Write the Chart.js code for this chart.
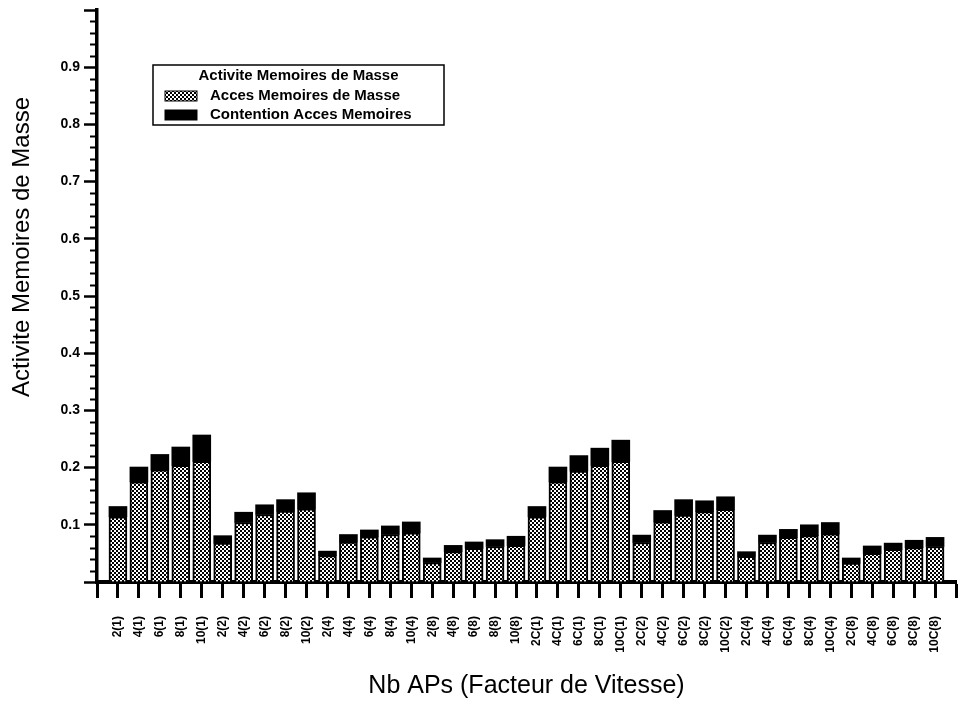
<!DOCTYPE html>
<html>
<head>
<meta charset="utf-8">
<title>Activite Memoires de Masse</title>
<script src="https://cdn.jsdelivr.net/npm/chart.js@4.4.0/dist/chart.umd.min.js"></script>
<style>
  html, body { margin: 0; padding: 0; background: #fff; }
  #wrap { position: relative; width: 958px; height: 703px; }
</style>
</head>
<body>
<div id="wrap"><canvas id="chart"></canvas></div>
<script>
  // Nb APs (facteur de vitesse).
  var categories = [
    '2(1)', '4(1)', '6(1)', '8(1)', '10(1)',
    '2(2)', '4(2)', '6(2)', '8(2)', '10(2)',
    '2(4)', '4(4)', '6(4)', '8(4)', '10(4)',
    '2(8)', '4(8)', '6(8)', '8(8)', '10(8)',
    '2C(1)', '4C(1)', '6C(1)', '8C(1)', '10C(1)',
    '2C(2)', '4C(2)', '6C(2)', '8C(2)', '10C(2)',
    '2C(4)', '4C(4)', '6C(4)', '8C(4)', '10C(4)',
    '2C(8)', '4C(8)', '6C(8)', '8C(8)', '10C(8)'
  ];

  // Acces Memoires de Masse (hatched part).
  var accesMasse = [
    0.114, 0.175, 0.196, 0.204, 0.211,
    0.068, 0.104, 0.118, 0.124, 0.128,
    0.046, 0.070, 0.079, 0.083, 0.086,
    0.034, 0.053, 0.059, 0.062, 0.064,
    0.114, 0.175, 0.194, 0.204, 0.211,
    0.069, 0.105, 0.117, 0.123, 0.127,
    0.045, 0.069, 0.078, 0.081, 0.084,
    0.033, 0.050, 0.057, 0.060, 0.062
  ];

  // Contention Acces Memoires (black part on top).
  var contention = [
    0.018, 0.026, 0.027, 0.032, 0.046,
    0.013, 0.018, 0.017, 0.020, 0.028,
    0.008, 0.013, 0.012, 0.015, 0.019,
    0.008, 0.011, 0.011, 0.012, 0.016,
    0.018, 0.026, 0.027, 0.030, 0.037,
    0.013, 0.020, 0.027, 0.019, 0.022,
    0.008, 0.013, 0.014, 0.019, 0.020,
    0.009, 0.013, 0.011, 0.013, 0.016
  ];

  // Labelled y ticks.
  var yTickLabels = [0.1, 0.2, 0.3, 0.4, 0.5, 0.6, 0.7, 0.8, 0.9];

  var FONT = '"Liberation Sans", Arial, Helvetica, sans-serif';

  // Hatch pattern for the "acces" bars.
  function makeHatch() {
    var c = document.createElement('canvas');
    c.width = 4;
    c.height = 4;
    var g = c.getContext('2d');
    g.fillStyle = '#000';
    g.fillRect(0, 0, 4, 4);
    g.fillStyle = '#fff';
    g.fillRect(0, 0, 2, 2);
    g.fillRect(2, 2, 2, 2);
    return g.createPattern(c, 'repeat');
  }
  var hatch = makeHatch();

  // Empty slot at each end of the axis, like the original plot.
  var labels = [''].concat(categories, ['']);
  var accesData = [null].concat(accesMasse, [null]);
  var contentionData = [null].concat(contention, [null]);

  var decorPlugin = {
    id: 'decor',
    afterDraw: function (chart) {
      var ctx = chart.ctx;
      var yScale = chart.scales.y;
      var area = chart.chartArea;
      ctx.save();

      // Minor ticks on the y axis.
      ctx.strokeStyle = '#000';
      ctx.lineWidth = 2;
      for (var i = 1; i < 50; i++) {
        if (i % 5 === 0) continue;
        var py = Math.round(yScale.getPixelForValue(i * 0.02)) + 0.5;
        ctx.beginPath();
        ctx.moveTo(area.left - 7, py);
        ctx.lineTo(area.left, py);
        ctx.stroke();
      }

      // Y axis title.
      ctx.fillStyle = '#000';
      ctx.font = '24px ' + FONT;
      ctx.textAlign = 'center';
      ctx.textBaseline = 'middle';
      ctx.translate(22, 247);
      ctx.rotate(-Math.PI / 2);
      ctx.fillText('Activite Memoires de Masse', 0, 0);
      ctx.restore();

      // Legend box.
      ctx.save();
      var lx = 153, ly = 65, lw = 291, lh = 60;
      ctx.fillStyle = '#fff';
      ctx.fillRect(lx, ly, lw, lh);
      ctx.strokeStyle = '#000';
      ctx.lineWidth = 1.5;
      ctx.strokeRect(lx, ly, lw, lh);

      ctx.fillStyle = '#000';
      ctx.font = 'bold 15px ' + FONT;
      ctx.textBaseline = 'middle';
      ctx.textAlign = 'center';
      ctx.fillText('Activite Memoires de Masse', lx + lw / 2, ly + 11);

      ctx.textAlign = 'left';
      var items = [
        { text: 'Acces Memoires de Masse', fill: hatch, y: ly + 31 },
        { text: 'Contention Acces Memoires', fill: '#000', y: ly + 50 }
      ];
      items.forEach(function (item) {
        ctx.fillStyle = item.fill;
        ctx.fillRect(lx + 12, item.y - 5, 32, 10);
        ctx.strokeStyle = '#000';
        ctx.lineWidth = 1;
        ctx.strokeRect(lx + 12, item.y - 5, 32, 10);
        ctx.fillStyle = '#000';
        ctx.fillText(item.text, lx + 57, item.y);
      });
      ctx.restore();
    }
  };

  var ctx = document.getElementById('chart');

  new Chart(ctx, {
    type: 'bar',
    data: {
      labels: labels,
      datasets: [
        {
          label: 'Acces Memoires de Masse',
          data: accesData,
          backgroundColor: hatch,
          borderColor: '#000',
          borderWidth: 2,
          barThickness: 18
        },
        {
          label: 'Contention Acces Memoires',
          data: contentionData,
          backgroundColor: '#000',
          borderColor: '#000',
          borderWidth: 0,
          barThickness: 18
        }
      ]
    },
    options: {
      responsive: true,
      maintainAspectRatio: false,
      animation: false,
      layout: { padding: { top: 10, right: 2, left: 0, bottom: 0 } },
      plugins: {
        legend: { display: false },
        tooltip: { enabled: false }
      },
      scales: {
        x: {
          stacked: true,
          offset: false,
          grid: {
            offset: false,
            drawOnChartArea: false,
            tickLength: 16,
            tickWidth: 3,
            tickColor: '#000'
          },
          border: { display: true, color: '#000', width: 4 },
          ticks: {
            autoSkip: false,
            minRotation: 90,
            maxRotation: 90,
            padding: 18,
            color: '#000',
            font: { family: FONT, size: 12, weight: 'bold' }
          },
          title: {
            display: true,
            text: 'Nb APs (Facteur de Vitesse)',
            color: '#000',
            font: { family: FONT, size: 25 },
            padding: { top: 0, bottom: 2 }
          },
          afterFit: function (scale) {
            scale.height = 121;
            scale.paddingLeft = 0;
            scale.paddingRight = 0;
          }
        },
        y: {
          stacked: true,
          min: 0,
          max: 1,
          ticks: {
            stepSize: 0.1,
            padding: 4,
            color: '#000',
            font: { family: FONT, size: 14, weight: 'bold' },
            callback: function (value) {
              for (var i = 0; i < yTickLabels.length; i++) {
                if (Math.abs(yTickLabels[i] - value) < 1e-6) return yTickLabels[i].toFixed(1);
              }
              return '';
            }
          },
          grid: {
            drawOnChartArea: false,
            tickLength: 13,
            tickWidth: 2.5,
            tickColor: '#000'
          },
          border: { display: true, color: '#000', width: 3.5 },
          afterFit: function (scale) {
            scale.width = 97;
            scale.paddingTop = 0;
            scale.paddingBottom = 0;
          }
        }
      }
    },
    plugins: [decorPlugin]
  });
</script>
</body>
</html>
